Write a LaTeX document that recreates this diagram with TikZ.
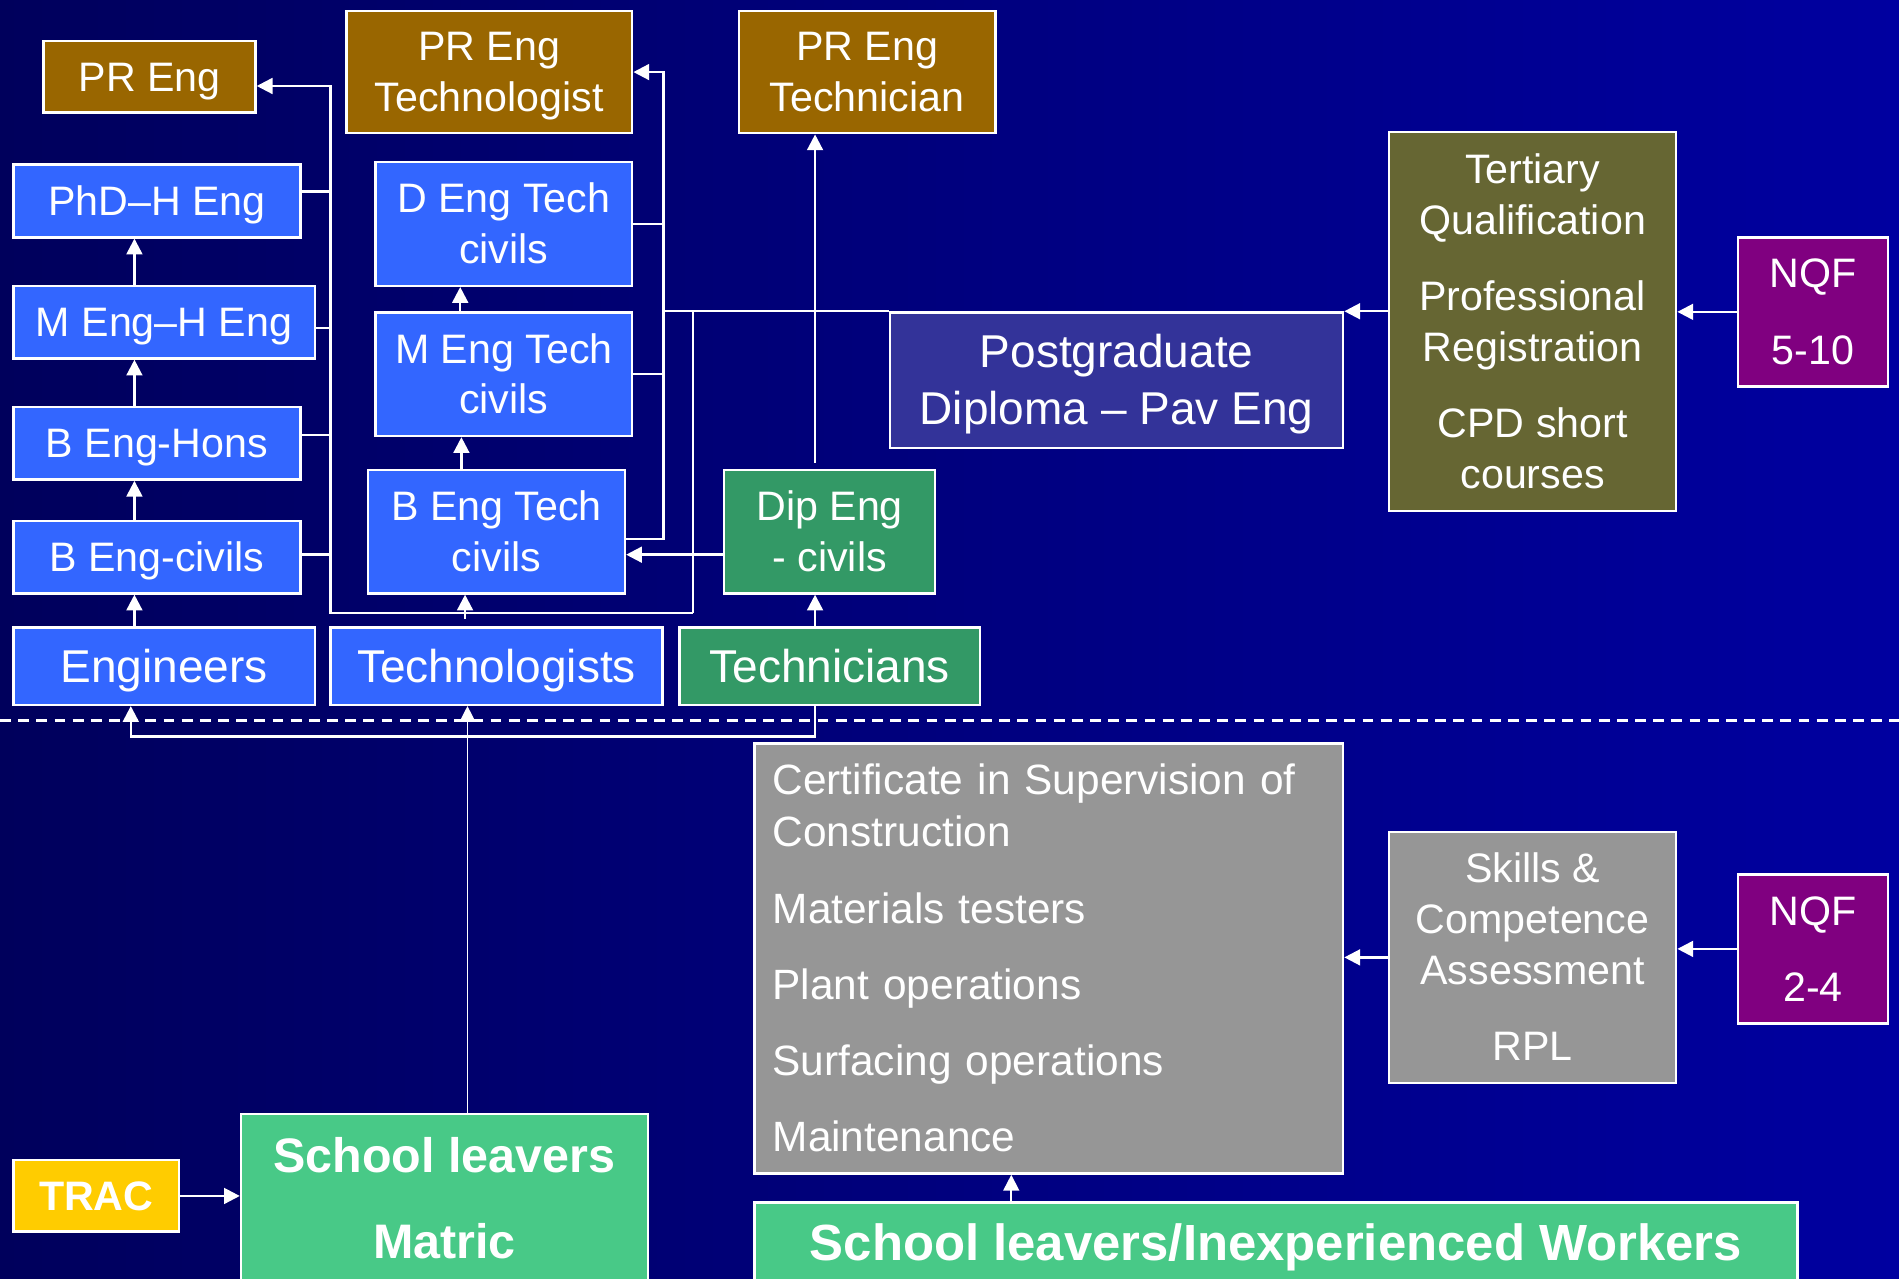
\documentclass[tikz,border=0pt]{standalone}
\usepackage{fontspec}
\setmainfont{Liberation Sans}
\usetikzlibrary{arrows.meta}
\definecolor{prbrown}{HTML}{996600}
\definecolor{engblue}{HTML}{3366FF}
\definecolor{tecgreen}{HTML}{339966}
\definecolor{pgblue}{HTML}{333399}
\definecolor{terolive}{HTML}{666633}
\definecolor{nqfpurple}{HTML}{800080}
\definecolor{skillgray}{HTML}{969696}
\definecolor{tracyellow}{HTML}{FFCC00}
\definecolor{leavegreen}{HTML}{48C987}
\definecolor{bgdark}{HTML}{00005C}
\definecolor{bglight}{HTML}{0000A0}
\newcommand{\linestrut}{\rule[-0.212em]{0pt}{1.117em}}
\begin{document}
\begin{tikzpicture}[x=1pt, y=-1pt,
    qbox/.style={draw=white, line width=2pt, text=white, align=center, inner sep=0pt, font=\fontsize{34}{42}\selectfont,
        execute at begin node=\linestrut, execute at end node=\linestrut},
    bigtext/.style={font=\fontsize{38}{47}\selectfont},
    boldtext/.style={font=\bfseries\fontsize{40}{42}\selectfont},
    link/.style={draw=white, line width=2pt},
    arr/.style={link, -{Triangle[length=13pt,width=13pt]}}]
    \useasboundingbox (0,0) rectangle (1568,1056);
    \shade[left color=bgdark, right color=bglight] (0,0) rectangle (1568,1056);
    % engineers
    \node[qbox, fill=prbrown, minimum width=175pt, minimum height=59pt] (preng) at (123.5,63.5) {PR Eng};
    \node[qbox, fill=engblue, minimum width=237pt, minimum height=60pt] (phd) at (129.5,166) {PhD--H Eng};
    \node[qbox, fill=engblue, minimum width=249pt, minimum height=60pt] (meng) at (135.5,266) {M Eng--H Eng};
    \node[qbox, fill=engblue, minimum width=237pt, minimum height=60pt] (bhons) at (129.5,366) {B Eng-Hons};
    \node[qbox, fill=engblue, minimum width=237pt, minimum height=60pt] (bciv) at (129.5,460) {B Eng-civils};
    \node[qbox, bigtext, fill=engblue, minimum width=249pt, minimum height=64pt] (eng) at (135.5,550) {Engineers};
    % technologists
    \node[qbox, fill=prbrown, minimum width=236pt, minimum height=101pt] (prengtg) at (404,59.5) {\linestrut PR Eng\\Technologist};
    \node[qbox, fill=engblue, minimum width=212pt, minimum height=102pt] (dtech) at (416,185) {\linestrut D Eng Tech\\civils};
    \node[qbox, fill=engblue, minimum width=212pt, minimum height=102pt] (mtech) at (416,309) {\linestrut M Eng Tech\\civils};
    \node[qbox, fill=engblue, minimum width=212pt, minimum height=102pt] (btech) at (410,439) {\linestrut B Eng Tech\\civils};
    \node[qbox, bigtext, fill=engblue, minimum width=274pt, minimum height=64pt] (tech) at (410,550) {Technologists};
    % technicians
    \node[qbox, fill=prbrown, minimum width=212pt, minimum height=101pt] (prengtn) at (716,59.5) {\linestrut PR Eng\\Technician};
    \node[qbox, fill=tecgreen, minimum width=174pt, minimum height=102pt] (dip) at (685,439) {\linestrut Dip Eng\\- civils};
    \node[qbox, bigtext, fill=tecgreen, minimum width=248pt, minimum height=64pt] (techn) at (685,550) {Technicians};
    % tertiary side
    \node[qbox, bigtext, fill=pgblue, minimum width=374pt, minimum height=112pt] (pgd) at (922,314) {\linestrut Postgraduate\\Diploma -- Pav Eng};
    \node[qbox, fill=terolive, minimum width=237pt, minimum height=313pt] (tert) at (1265.5,265.5)
        {\linestrut Tertiary\\Qualification\\[21pt]Professional\\Registration\\[21pt]CPD short\\courses};
    \node[qbox, fill=nqfpurple, minimum width=124pt, minimum height=123pt] (nqfa) at (1497,257.5) {\linestrut NQF\\[21pt]5-10};
    % skills side
    \node[qbox, fill=skillgray, align=left, text width=456pt, inner xsep=15pt, minimum height=355pt, font=\fontsize{35}{43}\selectfont] (cert) at (866,791.5)
        {Certificate in Supervision of\\Construction\\[20pt]Materials testers\\[20pt]Plant operations\\[20pt]Surfacing operations\\[20pt]Maintenance};
    \node[qbox, fill=skillgray, minimum width=237pt, minimum height=207pt] (skills) at (1265.5,790.5)
        {\linestrut Skills \&\\Competence\\Assessment\\[21pt]RPL};
    \node[qbox, fill=nqfpurple, minimum width=124pt, minimum height=123pt] (nqfb) at (1497,783.5) {\linestrut NQF\\[21pt]2-4};
    % entry
    \node[qbox, fill=tracyellow, minimum width=137pt, minimum height=59pt, font=\bfseries\fontsize{34}{40}\selectfont] (trac) at (79.5,987.5) {TRAC};
    \node[qbox, boldtext, fill=leavegreen, minimum width=336pt, minimum height=139pt] (matric) at (367,989.5) {\linestrut School leavers\\[29pt]Matric};
    \node[qbox, boldtext, fill=leavegreen, minimum width=861pt, minimum height=66pt, font=\bfseries\fontsize{42}{44}\selectfont] (workers) at (1053.5,1026) {School leavers/Inexperienced Workers};

    \coordinate (lbtop) at (273,71);
    \coordinate (lbbot) at (273,506);
    \coordinate (rbtop) at (548,59.5);
    \coordinate (rbbot) at (548,445);
    \coordinate (jn) at (572,506);
    \coordinate (lowl) at (108,608);
    \coordinate (lowr) at (673,608);

    % engineers bus
    \draw[arr] (jn) -- (lbbot) -- (lbtop) -- (preng.east |- lbtop);
    \foreach \n/\s in {phd/8, meng/-5, bhons/7, bciv/2}
        \draw[link] ([yshift=\s pt]\n.east) -- ([yshift=\s pt]\n.east -| lbtop);
    \draw[arr] (eng.north -| 111,0) -- (bciv.south -| 111,0);
    \draw[arr] (bciv.north -| 111,0) -- (bhons.south -| 111,0);
    \draw[arr] (bhons.north -| 111,0) -- (meng.south -| 111,0);
    \draw[arr] (meng.north -| 111,0) -- (phd.south -| 111,0);
    % technologists bus
    \draw[arr] (btech.east |- rbbot) -- (rbbot) -- (rbtop) -- (prengtg.east);
    \draw[link] (dtech.east) -- (dtech.east -| rbtop);
    \draw[link] (mtech.east) -- (mtech.east -| rbtop);
    \draw[link] (pgd.north west) -- (pgd.north west -| rbtop);
    \draw[link] (pgd.north west -| jn) -- (jn);
    \draw[arr] (mtech.north -| 380,0) -- (dtech.south -| 380,0);
    \draw[arr] (btech.north -| 381,0) -- (mtech.south -| 381,0);
    \draw[arr, shorten <=6pt] (tech.north -| 384,0) -- (btech.south -| 384,0);
    % technicians
    \draw[arr] ([yshift=-19pt]dip.west) -- ([yshift=-19pt]dip.west -| btech.east);
    \draw[arr, shorten <=5pt] (dip.north -| lowr) -- (prengtn.south -| lowr);
    \draw[arr] (techn.north -| lowr) -- (dip.south -| lowr);
    % tertiary
    \draw[arr] (tert.west |- pgd.north east) -- (pgd.north east);
    \draw[arr] (nqfa.west) -- (nqfa.west -| tert.east);
    % divider
    \draw[white, line width=2pt, dash pattern=on 9pt off 6pt] (0,595) -- (1568,595);
    % entry level
    \draw[arr, {Triangle[length=13pt,width=13pt]}-] (eng.south -| lowl) -- (lowl) -- (lowr) -- (techn.south -| lowr);
    \draw[arr, line width=1.2pt] (matric.north -| 386,0) -- (tech.south -| 386,0);
    \draw[arr] (trac.east) -- (trac.east -| matric.west);
    \draw[arr] (skills.west) -- (skills.west -| cert.east);
    \draw[arr] (nqfb.west) -- (nqfb.west -| skills.east);
    \draw[arr, line width=1.5pt] (workers.north -| 835,0) -- (cert.south -| 835,0);
\end{tikzpicture}
\end{document}
